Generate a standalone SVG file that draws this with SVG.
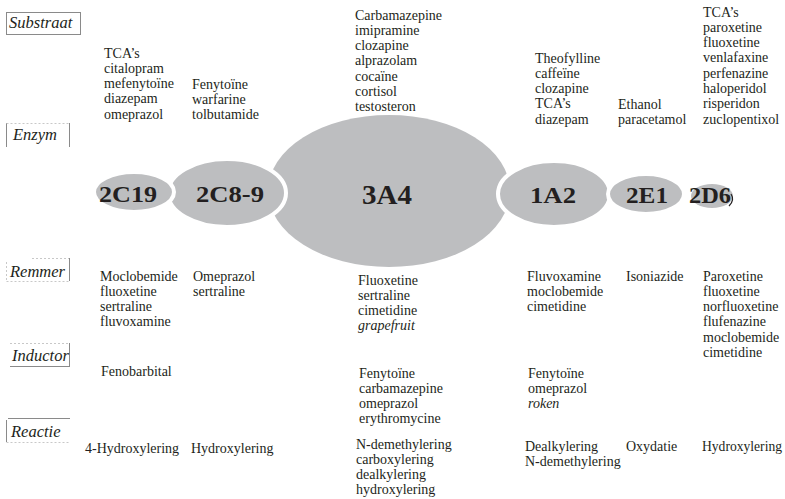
<svg xmlns="http://www.w3.org/2000/svg" width="785" height="499" viewBox="0 0 785 499">
<style>
.t{font-family:"Liberation Serif","Times New Roman",serif;font-size:14px;fill:#231f20}
.i{font-style:italic}
.lb{font-family:"Liberation Serif","Times New Roman",serif;font-size:16.5px;font-style:italic;fill:#231f20}
.en{fill:#bdbec0}
.ov{fill:#bdbec0;stroke:#ffffff;stroke-width:4}
.nl{font-family:"Liberation Serif","Times New Roman",serif;font-weight:bold;font-size:23px;fill:#231f20;text-anchor:middle}
.bx{fill:none;stroke:#8a8a8a;stroke-width:1}
.bl{fill:none;stroke:#c8c8c8;stroke-width:1;stroke-dasharray:2 2}
</style>
<rect width="785" height="499" fill="#ffffff"/>

<g id="row-labels">
  <g id="label-substraat">
    <rect class="bx" x="6.5" y="12.5" width="74" height="22"/>
    <text class="lb" x="9" y="28">Substraat</text>
  </g>
  <g id="label-enzym">
    <line class="bx" x1="6.5" y1="123" x2="6.5" y2="147"/>
    <line class="bx" x1="69.5" y1="123" x2="69.5" y2="147"/>
    <line class="bl" x1="6.5" y1="123.5" x2="69.5" y2="123.5"/>
    <text class="lb" x="13" y="140">Enzym</text>
  </g>
  <g id="label-remmer">
    <line class="bl" x1="32" y1="258.5" x2="69.5" y2="258.5"/>
    <line class="bx" x1="69.5" y1="258" x2="69.5" y2="281"/>
    <line class="bl" x1="6.5" y1="262" x2="6.5" y2="281"/>
    <line class="bl" x1="6.5" y1="281.5" x2="69.5" y2="281.5"/>
    <text class="lb" x="10" y="277">Remmer</text>
  </g>
  <g id="label-inductor">
    <line class="bl" x1="10" y1="343.5" x2="69.5" y2="343.5"/>
    <line class="bx" x1="69.5" y1="343" x2="69.5" y2="367"/>
    <line class="bx" x1="10" y1="366.5" x2="69.5" y2="366.5"/>
    <text class="lb" x="12" y="361">Inductor</text>
  </g>
  <g id="label-reactie">
    <line class="bx" x1="8" y1="418.5" x2="70" y2="418.5"/>
    <line class="bx" x1="6.5" y1="420" x2="6.5" y2="442"/>
    <line class="bl" x1="6.5" y1="442.5" x2="69.5" y2="442.5"/>
    <text class="lb" x="11" y="437">Reactie</text>
  </g>
</g>

<g id="connectors"/>

<g id="enzymes">
  <g id="node-3A4">
    <ellipse class="en" cx="389" cy="191" rx="121" ry="76"/>
  </g>
  <g id="node-2C8-9">
    <ellipse class="ov" cx="227" cy="193" rx="59" ry="34"/>
    <text class="nl" x="230" y="202" textLength="68" lengthAdjust="spacingAndGlyphs">2C8-9</text>
  </g>
  <g id="node-2C19">
    <ellipse class="ov" cx="134" cy="192" rx="40" ry="20"/>
    <text class="nl" x="128" y="202" textLength="58" lengthAdjust="spacingAndGlyphs">2C19</text>
  </g>
  <g id="node-1A2">
    <ellipse class="ov" cx="554" cy="194" rx="56" ry="33"/>
    <text class="nl" x="553" y="203" textLength="46" lengthAdjust="spacingAndGlyphs">1A2</text>
  </g>
  <g id="node-2E1">
    <ellipse class="ov" cx="646" cy="194" rx="38" ry="20"/>
    <text class="nl" x="647" y="203" textLength="42" lengthAdjust="spacingAndGlyphs">2E1</text>
  </g>
  <g id="node-2D6">
    <ellipse class="en" cx="712" cy="196" rx="21" ry="12"/>
    <text class="nl" x="710" y="203" textLength="42" lengthAdjust="spacingAndGlyphs">2D6</text>
    <path d="M731 194 Q735 200 729 206" fill="none" stroke="#231f20" stroke-width="1.2"/>
  </g>
  <g id="node-3A4-label">
    <text class="nl" x="387" y="204" style="font-size:27px" textLength="50" lengthAdjust="spacingAndGlyphs">3A4</text>
  </g>
</g>

<g id="substraat">
  <text class="t" x="104" y="57.5"><tspan x="104">TCA’s</tspan><tspan x="104" dy="15.3">citalopram</tspan><tspan x="104" dy="15.3">mefenytoïne</tspan><tspan x="104" dy="15.3">diazepam</tspan><tspan x="104" dy="15.3">omeprazol</tspan></text>
  <text class="t" x="192" y="88.5"><tspan x="192">Fenytoïne</tspan><tspan x="192" dy="15.3">warfarine</tspan><tspan x="192" dy="15.3">tolbutamide</tspan></text>
  <text class="t" x="355" y="19.5"><tspan x="355">Carbamazepine</tspan><tspan x="355" dy="15.3">imipramine</tspan><tspan x="355" dy="15.3">clozapine</tspan><tspan x="355" dy="15.3">alprazolam</tspan><tspan x="355" dy="15.3">cocaïne</tspan><tspan x="355" dy="15.3">cortisol</tspan><tspan x="355" dy="15.3">testosteron</tspan></text>
  <text class="t" x="535" y="62.5"><tspan x="535">Theofylline</tspan><tspan x="535" dy="15.3">caffeïne</tspan><tspan x="535" dy="15.3">clozapine</tspan><tspan x="535" dy="15.3">TCA’s</tspan><tspan x="535" dy="15.3">diazepam</tspan></text>
  <text class="t" x="618" y="108.5"><tspan x="618">Ethanol</tspan><tspan x="618" dy="15.3">paracetamol</tspan></text>
  <text class="t" x="703" y="16.5"><tspan x="703">TCA’s</tspan><tspan x="703" dy="15.3">paroxetine</tspan><tspan x="703" dy="15.3">fluoxetine</tspan><tspan x="703" dy="15.3">venlafaxine</tspan><tspan x="703" dy="15.3">perfenazine</tspan><tspan x="703" dy="15.3">haloperidol</tspan><tspan x="703" dy="15.3">risperidon</tspan><tspan x="703" dy="15.3">zuclopentixol</tspan></text>
</g>

<g id="remmer">
  <text class="t" x="100" y="280.5"><tspan x="100">Moclobemide</tspan><tspan x="100" dy="15.3">fluoxetine</tspan><tspan x="100" dy="15.3">sertraline</tspan><tspan x="100" dy="15.3">fluvoxamine</tspan></text>
  <text class="t" x="193" y="280.5"><tspan x="193">Omeprazol</tspan><tspan x="193" dy="15.3">sertraline</tspan></text>
  <text class="t" x="358" y="284.5"><tspan x="358">Fluoxetine</tspan><tspan x="358" dy="15.3">sertraline</tspan><tspan x="358" dy="15.3">cimetidine</tspan><tspan x="358" dy="15.3" class="i">grapefruit</tspan></text>
  <text class="t" x="527" y="280.5"><tspan x="527">Fluvoxamine</tspan><tspan x="527" dy="15.3">moclobemide</tspan><tspan x="527" dy="15.3">cimetidine</tspan></text>
  <text class="t" x="626" y="280.5">Isoniazide</text>
  <text class="t" x="703" y="280.5"><tspan x="703">Paroxetine</tspan><tspan x="703" dy="15.3">fluoxetine</tspan><tspan x="703" dy="15.3">norfluoxetine</tspan><tspan x="703" dy="15.3">flufenazine</tspan><tspan x="703" dy="15.3">moclobemide</tspan><tspan x="703" dy="15.3">cimetidine</tspan></text>
</g>

<g id="inductor">
  <text class="t" x="101" y="375.5">Fenobarbital</text>
  <text class="t" x="359" y="377.5"><tspan x="359">Fenytoïne</tspan><tspan x="359" dy="15.3">carbamazepine</tspan><tspan x="359" dy="15.3">omeprazol</tspan><tspan x="359" dy="15.3">erythromycine</tspan></text>
  <text class="t" x="528" y="377.5"><tspan x="528">Fenytoïne</tspan><tspan x="528" dy="15.3">omeprazol</tspan><tspan x="528" dy="15.3" class="i">roken</tspan></text>
</g>

<g id="reactie">
  <text class="t" x="85" y="452.5">4-Hydroxylering</text>
  <text class="t" x="191" y="452.5">Hydroxylering</text>
  <text class="t" x="356" y="448.5"><tspan x="356">N-demethylering</tspan><tspan x="356" dy="15.3">carboxylering</tspan><tspan x="356" dy="15.3">dealkylering</tspan><tspan x="356" dy="15.3">hydroxylering</tspan></text>
  <text class="t" x="525" y="450.5"><tspan x="525">Dealkylering</tspan><tspan x="525" dy="15.3">N-demethylering</tspan></text>
  <text class="t" x="626" y="450.5">Oxydatie</text>
  <text class="t" x="702" y="450.5" textLength="80" lengthAdjust="spacingAndGlyphs">Hydroxylering</text>
</g>
</svg>
